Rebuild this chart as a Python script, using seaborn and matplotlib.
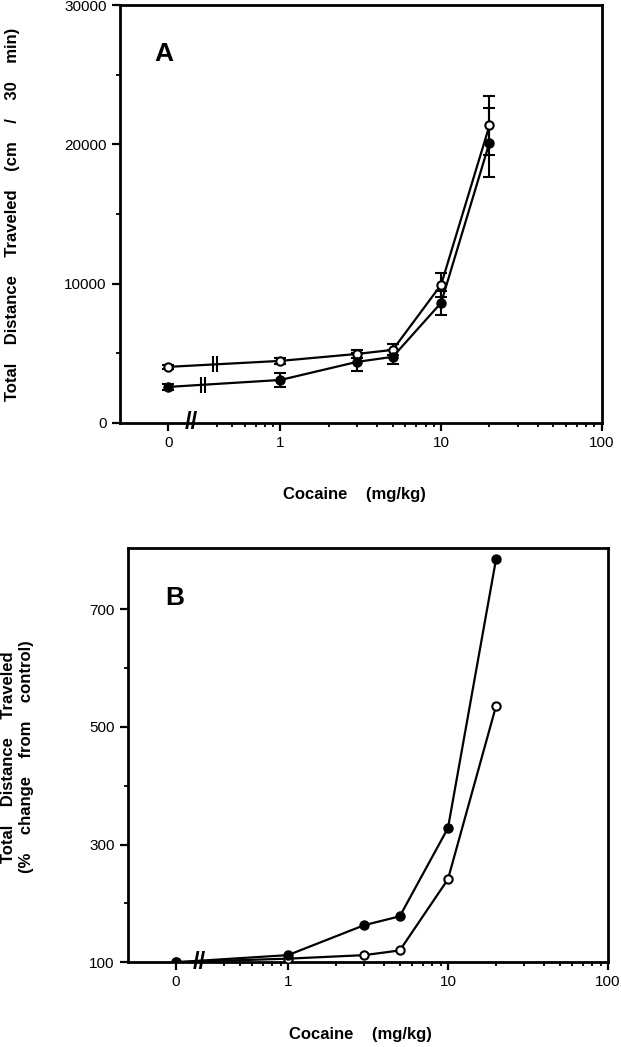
import numpy as np
import pandas as pd
import matplotlib
matplotlib.use("Agg")
import matplotlib.pyplot as plt
import seaborn as sns

# doses (mg/kg); the 0 mg/kg control is drawn left of the axis break
doses = [0, 1, 3, 5, 10, 20]
zero_pos = 0.2

# panel A: total distance (cm / 30 min), mean and error
a_open_mean = [4030, 4460, 4960, 5250, 9930, 21370]
a_open_err = [150, 200, 300, 400, 850, 2100]
a_filled_mean = [2590, 3090, 4390, 4750, 8630, 20140]
a_filled_err = [200, 500, 650, 500, 850, 2500]

# panel B: % of control
b_open = [100, 106, 112, 120, 241, 536]
b_filled = [100, 112, 163, 178, 328, 786]

x_ticks = [zero_pos, 1, 10, 100]
x_ticklabels = ["0", "1", "10", "100"]
x_minor = [0.4, 0.5, 0.6, 0.7, 0.8, 0.9] + list(range(2, 10)) + list(range(20, 100, 10))

sns.set_style("ticks")
plt.rcParams["font.family"] = ["Liberation Sans", "DejaVu Sans"]
plt.rcParams["text.color"] = "black"
plt.rcParams["axes.labelcolor"] = "black"
plt.rcParams["xtick.color"] = "black"
plt.rcParams["ytick.color"] = "black"

x_pos = [zero_pos if d == 0 else d for d in doses]


def style_axes(ax):
    ax.set_xscale("log")
    ax.set_xlim(0.1, 100)
    ax.set_xticks(x_ticks)
    ax.set_xticklabels(x_ticklabels)
    ax.set_xticks(x_minor, minor=True)
    ax.xaxis.set_minor_formatter(matplotlib.ticker.NullFormatter())
    for s in ax.spines.values():
        s.set_linewidth(2)
        s.set_color("black")
    ax.tick_params(which="major", direction="out", length=6, width=1.6,
                   labelsize=11, colors="black")
    ax.tick_params(which="minor", direction="out", length=3, width=1.3)
    # axis break
    ax.text(0.28, 0, "//", transform=ax.get_xaxis_transform(), ha="center",
            va="center", fontsize=17, fontweight="bold", color="black")
    ax.set_xlabel("")
    ax.set_ylabel("")


def draw_series(ax, y, filled, err=None):
    df = pd.DataFrame({"x": x_pos, "y": y})
    if err is not None:
        ax.errorbar(x_pos, y, yerr=err, fmt="none", ecolor="black",
                    elinewidth=1.5, capsize=4, capthick=1.5, zorder=2)
    sns.lineplot(data=df, x="x", y="y", ax=ax, color="black", linewidth=1.6,
                 marker="o", markersize=6,
                 markerfacecolor="black" if filled else "white",
                 markeredgecolor="black", markeredgewidth=1.5, zorder=3)
    ax.set_xlabel("")
    ax.set_ylabel("")


def line_break(ax, y, xb):
    lx = np.log10(x_pos)
    pts = [10 ** (np.log10(xb) - 0.013), 10 ** (np.log10(xb) + 0.013)]
    ys = np.interp(np.log10(pts), lx, y)
    ax.plot(pts, ys, linestyle="none", marker="|", markersize=11,
            markeredgewidth=1.5, color="black", zorder=4)


fig = plt.figure(figsize=(6.21, 10.47), dpi=100)

# panel A
axA = fig.add_axes([0.193, 0.596, 0.776, 0.399])
draw_series(axA, a_open_mean, False, a_open_err)
draw_series(axA, a_filled_mean, True, a_filled_err)
line_break(axA, a_open_mean, 0.39)
line_break(axA, a_filled_mean, 0.33)
style_axes(axA)
axA.set_ylim(0, 30000)
axA.set_yticks([0, 10000, 20000, 30000])
axA.set_yticks([5000, 15000, 25000], minor=True)
axA.text(0.165, 26500, "A", fontsize=19, fontweight="bold", ha="left",
         va="center", color="black")
fig.text(0.57, 1 - 495 / 1047, "Cocaine    (mg/kg)", ha="center", va="center",
         fontsize=12, fontweight="bold", color="black")
fig.text(13 / 621, 1 - 214 / 1047,
         "Total    Distance    Traveled    (cm    /    30    min)",
         rotation=90, ha="center", va="center", fontsize=12, fontweight="bold",
         color="black")

# panel B
axB = fig.add_axes([0.206, 0.081, 0.773, 0.396])
draw_series(axB, b_open, False)
draw_series(axB, b_filled, True)
style_axes(axB)
axB.set_ylim(100, 805)
axB.set_yticks([100, 300, 500, 700])
axB.set_yticks([200, 400, 600], minor=True)
axB.text(0.17, 720, "B", fontsize=19, fontweight="bold", ha="left",
         va="center", color="black")
fig.text(0.58, 1 - 1035 / 1047, "Cocaine    (mg/kg)", ha="center", va="center",
         fontsize=12, fontweight="bold", color="black")
fig.text(18 / 621, 1 - 757 / 1047,
         "Total    Distance    Traveled\n(%    change    from    control)",
         rotation=90, ha="center", va="center", fontsize=12, fontweight="bold",
         linespacing=1.25, color="black")

fig.savefig("out.png", dpi=100)
